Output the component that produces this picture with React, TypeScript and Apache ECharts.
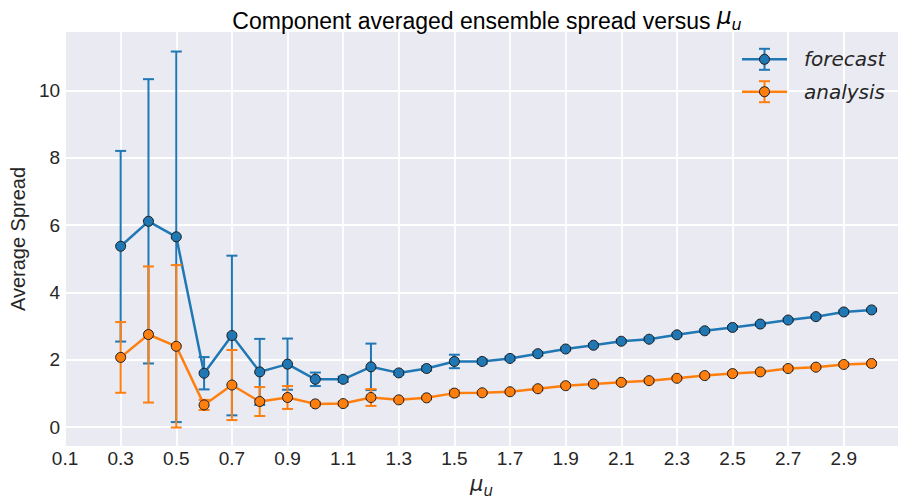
import React, { useEffect, useRef } from "react";
import * as echarts from "echarts";

// mu_u values at which the ensemble spread was evaluated
const muValues = [
  0.3, 0.4, 0.5, 0.6, 0.7, 0.8, 0.9, 1.0, 1.1, 1.2, 1.3, 1.4, 1.5, 1.6, 1.7,
  1.8, 1.9, 2.0, 2.1, 2.2, 2.3, 2.4, 2.5, 2.6, 2.7, 2.8, 2.9, 3.0,
];

// forecast spread (mean and half-width of the error bar)
const forecastMean = [
  5.37, 6.11, 5.65, 1.6, 2.72, 1.64, 1.87, 1.42, 1.42, 1.79, 1.61, 1.74, 1.95,
  1.95, 2.04, 2.18, 2.32, 2.43, 2.55, 2.61, 2.74, 2.86, 2.96, 3.06, 3.18, 3.28,
  3.42, 3.48,
];
const forecastErr = [
  2.83, 4.22, 5.5, 0.48, 2.37, 0.98, 0.76, 0.2, 0.08, 0.69, 0.05, 0.06, 0.2,
  0.06, 0.05, 0.05, 0.04, 0.04, 0.04, 0.04, 0.04, 0.04, 0.04, 0.04, 0.04, 0.04,
  0.04, 0.04,
];

// analysis spread (mean and half-width of the error bar)
const analysisMean = [
  2.07, 2.75, 2.4, 0.66, 1.25, 0.76, 0.88, 0.69, 0.7, 0.88, 0.81, 0.87, 1.01,
  1.02, 1.05, 1.14, 1.23, 1.28, 1.33, 1.38, 1.45, 1.53, 1.59, 1.64, 1.74, 1.78,
  1.86, 1.89,
];
const analysisErr = [
  1.05, 2.02, 2.41, 0.15, 1.04, 0.43, 0.34, 0.05, 0.05, 0.25, 0.04, 0.04, 0.08,
  0.04, 0.04, 0.04, 0.04, 0.04, 0.04, 0.04, 0.04, 0.04, 0.04, 0.04, 0.04, 0.04,
  0.04, 0.04,
];

const xTicks = [0.1, 0.3, 0.5, 0.7, 0.9, 1.1, 1.3, 1.5, 1.7, 1.9, 2.1, 2.3, 2.5, 2.7, 2.9];
const yTicks = [0, 2, 4, 6, 8, 10];

const BLUE = "#1f77b4";
const ORANGE = "#ff7f0e";
const TEXT = "#262626";
const EDGE = "#1a1a1a";
const SANS = "'Liberation Sans', Arial, sans-serif";
const MATH = "'DejaVu Sans', sans-serif";

function mathRich(baseSize: number, muSize: number, subSize: number, lift: number) {
  return {
    base: { fontFamily: SANS, fontSize: baseSize, color: TEXT, verticalAlign: "bottom", lineHeight: 30 },
    mu: {
      fontFamily: MATH,
      fontStyle: "italic",
      fontSize: muSize,
      color: TEXT,
      verticalAlign: "bottom",
      lineHeight: 30,
      padding: [0, 0, lift, 0],
    },
    sub: {
      fontFamily: MATH,
      fontStyle: "italic",
      fontSize: subSize,
      color: TEXT,
      verticalAlign: "bottom",
      lineHeight: 30,
    },
  };
}

function errorBarSeries(name: string, mean: number[], err: number[], color: string, z: number) {
  return {
    name: name + "-err",
    type: "custom",
    z,
    silent: true,
    data: muValues.map((x, i) => [x, mean[i] - err[i], mean[i] + err[i]]),
    renderItem: (_params: any, api: any) => {
      const x = api.value(0);
      const top = api.coord([x, api.value(2)]);
      const bot = api.coord([x, api.value(1)]);
      const cap = 5.5;
      const style = { stroke: color, lineWidth: 2 };
      return {
        type: "group",
        children: [
          { type: "line", shape: { x1: top[0], y1: top[1], x2: bot[0], y2: bot[1] }, style },
          { type: "line", shape: { x1: top[0] - cap, y1: top[1], x2: top[0] + cap, y2: top[1] }, style },
          { type: "line", shape: { x1: bot[0] - cap, y1: bot[1], x2: bot[0] + cap, y2: bot[1] }, style },
        ],
      };
    },
  };
}

function lineSeries(name: string, mean: number[], color: string, z: number) {
  return {
    name,
    type: "line",
    z,
    data: muValues.map((x, i) => [x, mean[i]]),
    symbol: "circle",
    symbolSize: 10,
    lineStyle: { color, width: 2.5 },
    itemStyle: { color, borderColor: EDGE, borderWidth: 1 },
  };
}

function legendEntry(y: number, color: string, label: string) {
  const cx = 764.5;
  const barStyle = { stroke: color, lineWidth: 2 };
  return {
    type: "group",
    z: 100,
    children: [
      { type: "line", z: 100, shape: { x1: 742, y1: y, x2: 787, y2: y }, style: { stroke: color, lineWidth: 2.5 } },
      { type: "line", z: 100, shape: { x1: cx, y1: y - 10.5, x2: cx, y2: y + 10.5 }, style: barStyle },
      { type: "line", z: 100, shape: { x1: cx - 5.5, y1: y - 10.5, x2: cx + 5.5, y2: y - 10.5 }, style: barStyle },
      { type: "line", z: 100, shape: { x1: cx - 5.5, y1: y + 10.5, x2: cx + 5.5, y2: y + 10.5 }, style: barStyle },
      { type: "circle", z: 101, shape: { cx, cy: y, r: 5 }, style: { fill: color, stroke: EDGE, lineWidth: 1 } },
      {
        type: "text",
        z: 101,
        x: 804,
        y,
        style: {
          text: label,
          fontFamily: MATH,
          fontStyle: "italic",
          fontSize: 20,
          fill: TEXT,
          verticalAlign: "middle",
        },
      },
    ],
  };
}

export default function App() {
  const ref = useRef<HTMLDivElement>(null);

  useEffect(() => {
    if (!ref.current) return;
    const chart = echarts.init(ref.current, undefined, { renderer: "svg" });

    chart.setOption({
      animation: false,
      backgroundColor: "#ffffff",
      grid: {
        show: true,
        left: 64,
        top: 32,
        width: 834,
        height: 418,
        backgroundColor: "#EAEAF2",
        borderWidth: 0,
        containLabel: false,
      },
      xAxis: {
        type: "value",
        min: 0.1,
        max: 3.095,
        axisLine: { show: false },
        axisTick: { show: false },
        splitLine: { show: false },
        axisLabel: {
          customValues: xTicks,
          formatter: (v: number) => v.toFixed(1),
          fontFamily: SANS,
          fontSize: 19,
          color: TEXT,
          margin: 3,
        },
        name: "{mu|μ}{sub|u}",
        nameLocation: "middle",
        nameGap: 22,
        nameTextStyle: { rich: mathRich(20, 21, 15, 4) },
      },
      yAxis: {
        type: "value",
        min: -0.56,
        max: 11.73,
        axisLine: { show: false },
        axisTick: { show: false },
        splitLine: { show: false },
        axisLabel: {
          customValues: yTicks,
          formatter: (v: number) => String(v),
          fontFamily: SANS,
          fontSize: 19,
          color: TEXT,
          margin: 5,
        },
        name: "Average Spread",
        nameLocation: "middle",
        nameGap: 29,
        nameTextStyle: { fontFamily: SANS, fontSize: 20, color: TEXT },
      },
      graphic: [
        {
          type: "text",
          x: 487,
          y: 17,
          z: 100,
          style: {
            text: "{base|Component averaged ensemble spread versus }{mu|μ}{sub|u}",
            rich: mathRich(23, 23, 16, 5),
            align: "center",
            verticalAlign: "middle",
          },
        },
        legendEntry(59.3, BLUE, "forecast"),
        legendEntry(91.7, ORANGE, "analysis"),
      ],
      series: [
        {
          name: "grid",
          type: "line",
          z: 1,
          silent: true,
          data: [],
          markLine: {
            z: 1,
            silent: true,
            symbol: "none",
            label: { show: false },
            lineStyle: { color: "#ffffff", width: 1.8, type: "solid" },
            emphasis: { disabled: true },
            data: [
              ...xTicks.map((v) => ({ xAxis: v })),
              ...yTicks.map((v) => ({ yAxis: v })),
            ],
          },
        },
        errorBarSeries("forecast", forecastMean, forecastErr, BLUE, 5),
        lineSeries("forecast", forecastMean, BLUE, 6),
        errorBarSeries("analysis", analysisMean, analysisErr, ORANGE, 7),
        lineSeries("analysis", analysisMean, ORANGE, 8),
      ],
    });

    return () => chart.dispose();
  }, []);

  return (
    <div
      ref={ref}
      style={{ position: "fixed", left: 0, top: 0, width: 898, height: 503 }}
    />
  );
}
